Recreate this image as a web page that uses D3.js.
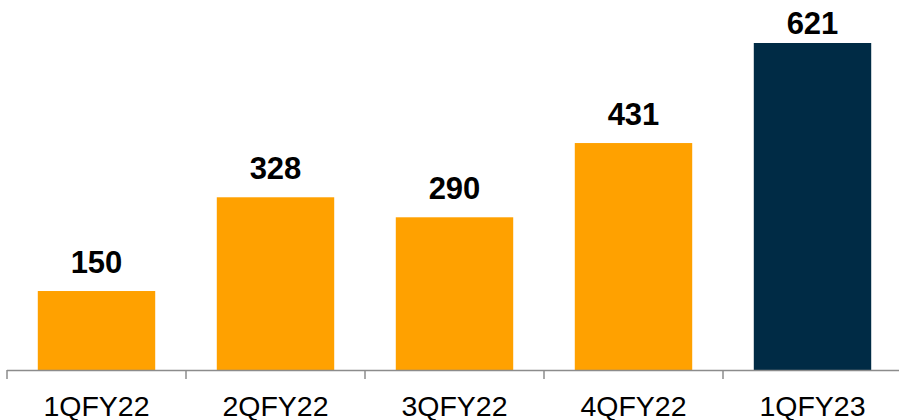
<!DOCTYPE html>
<html><head><meta charset="utf-8">
<script src="https://cdn.jsdelivr.net/npm/d3@7"></script>
<style>body{margin:0;background:#fff}svg{display:block}</style>
</head><body><svg id="c" width="899" height="420"></svg>
<script>
const categories = ["1QFY22","2QFY22","3QFY22","4QFY22","1QFY23"];
const values = [150, 328, 290, 431, 621];
const colors = ["#FFA100","#FFA100","#FFA100","#FFA100","#002B45"];

const svg = d3.select("#c");
const baseY = 370;
const x = d3.scaleBand().domain(categories).range([7, 902]).paddingInner(0.344).paddingOuter(0.172);
const y = d3.scaleLinear().domain([0, 621]).range([baseY, 43]);

svg.selectAll("rect.bar").data(values).enter().append("rect")
  .attr("x", (d,i) => x(categories[i]))
  .attr("width", x.bandwidth())
  .attr("y", d => y(d))
  .attr("height", d => baseY - y(d))
  .attr("fill", (d,i) => colors[i]);

svg.selectAll("text.val").data(values).enter().append("text")
  .attr("x", (d,i) => x(categories[i]) + x.bandwidth()/2)
  .attr("y", d => Math.max(y(d) - 18, 34))
  .attr("text-anchor","middle")
  .attr("font-family","'Liberation Sans', Arial, sans-serif")
  .attr("font-weight","bold")
  .attr("font-size","31px")
  .attr("fill","#000")
  .text(d => d);

// axis line
const step = x.step();
svg.append("line").attr("x1",7).attr("x2",899).attr("y1",baseY+0.5).attr("y2",baseY+0.5)
  .attr("stroke","#8c8c8c").attr("stroke-width",1.5);
const tickXs = categories.map(c => x(c) - x.paddingInner()*step/2);
svg.selectAll("line.tick").data(tickXs).enter().append("line")
  .attr("x1", d => d).attr("x2", d => d).attr("y1", baseY).attr("y2", baseY+9)
  .attr("stroke","#8c8c8c").attr("stroke-width",1.5);

svg.selectAll("text.cat").data(categories).enter().append("text")
  .attr("x", d => x(d) + x.bandwidth()/2)
  .attr("y", 416)
  .attr("text-anchor","middle")
  .attr("font-family","'Liberation Sans', Arial, sans-serif")
  .attr("font-size","28.5px")
  .attr("fill","#000")
  .text(d => d);
</script></body></html>
